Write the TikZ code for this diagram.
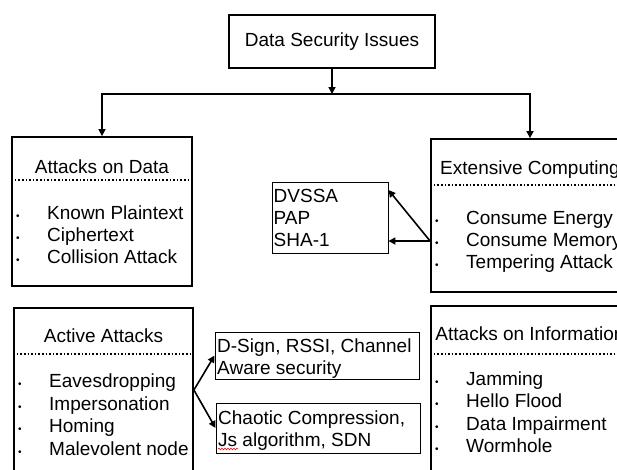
\documentclass[tikz,border=0pt]{standalone}
\usepackage{fontspec}
\setmainfont{Liberation Sans}
\usetikzlibrary{arrows.meta,decorations.pathmorphing}

\newcommand{\blt}{\makebox[31pt][l]{\fontsize{10}{10}\selectfont\textbullet}}

\tikzset{
  bigbox/.style={draw, line width=1.8pt, inner sep=0pt},
  smallbox/.style={draw, line width=0.9pt, inner sep=0pt},
  txt/.style={inner sep=0pt, anchor=base west},
  head/.style={inner sep=0pt, anchor=base},
  sepline/.style={line width=1.6pt, dash pattern=on 1.6pt off 2pt},
  arr/.style={line width=1.6pt, -{Triangle[length=7pt,width=7pt]}},
}

\begin{document}
\begin{tikzpicture}[x=1pt,y=-1pt,font=\fontsize{19}{22}\selectfont]
\clip (0,0) rectangle (617,469);

% Boxes
\node[bigbox, minimum width=206, minimum height=53] (title) at (332,41.5) {Data Security Issues};
\node[bigbox, minimum width=180, minimum height=149] (data) at (102,211.5) {};
\node[bigbox, minimum width=198, minimum height=153] (comp) at (530,215.5) {};
\node[bigbox, minimum width=179, minimum height=172] (active) at (103.5,394) {};
\node[bigbox, minimum width=198, minimum height=174] (info) at (530,393) {};

\node[smallbox, minimum width=116, minimum height=71] (algo) at (330,217.5) {};
\node[smallbox, minimum width=204, minimum height=47] (dsign) at (317,355.5) {};
\node[smallbox, minimum width=204, minimum height=50] (chaos) at (318,428) {};

% Headers and separators
\node[head] (datahead) at (102,173) {Attacks on Data};
\node[head] (comphead) at (530,174) {Extensive Computing};
\node[head] (activehead) at (103.5,342) {Active Attacks};
\node[head] (infohead) at (530,340) {Attacks on Information};

\draw[sepline] (data.west |- 0,180) -- (data.east |- 0,180);
\draw[sepline] (comp.west |- 0,185) -- (comp.east |- 0,185);
\draw[sepline] (active.west |- 0,354) -- (active.east |- 0,354);
\draw[sepline] (info.west |- 0,354) -- (info.east |- 0,354);

% Items
\node[txt] (data1) at (16,219) {\blt Known Plaintext};
\node[txt] (data2) at (16,241) {\blt Ciphertext};
\node[txt] (data3) at (16,263) {\blt Collision Attack};

\node[txt] (comp1) at (435,224) {\blt Consume Energy};
\node[txt] (comp2) at (435,246) {\blt Consume Memory};
\node[txt] (comp3) at (435,268) {\blt Tempering Attack};

\node[txt] (active1) at (18,387) {\blt Eavesdropping};
\node[txt] (active2) at (18,410) {\blt Impersonation};
\node[txt] (active3) at (18,432) {\blt Homing};
\node[txt] (active4) at (18,455) {\blt Malevolent node};

\node[txt] (info1) at (435,385) {\blt Jamming};
\node[txt] (info2) at (435,407) {\blt Hello Flood};
\node[txt] (info3) at (435,430) {\blt Data Impairment};
\node[txt] (info4) at (435,452) {\blt Wormhole};

\node[txt] (algo1) at (273.5,202) {DVSSA};
\node[txt] (algo2) at (273.5,224) {PAP};
\node[txt] (algo3) at (273.5,246) {SHA-1};

\node[txt] (dsign1) at (217,352) {D-Sign, RSSI, Channel};
\node[txt] (dsign2) at (217,374) {Aware security};

\node[txt] (chaos1) at (218,424) {Chaotic Compression,};
\node[txt] (chaos2) at (218,446) {Js algorithm, SDN};
\draw[red, line width=0.6pt, decorate, decoration={snake, amplitude=0.8pt, segment length=3pt}]
  ([yshift=-3pt]chaos2.base west) -- ++(20,0);

% Connectors
\coordinate (bus) at (332,94);
\draw[arr] (title) -- (bus);
\draw[arr] (bus) -| (data);
\draw[arr] (bus) -| (comp);

\coordinate (compout) at (comp.west |- 0,241);
\draw[arr] (compout) -- (algo.east |- 0,190);
\draw[arr] (compout) -- (algo.east |- compout);

\coordinate (activeout) at (active.east |- 0,390);
\draw[arr] (activeout) -- (dsign.west);
\draw[arr] (activeout) -- (chaos.west);
\end{tikzpicture}
\end{document}
